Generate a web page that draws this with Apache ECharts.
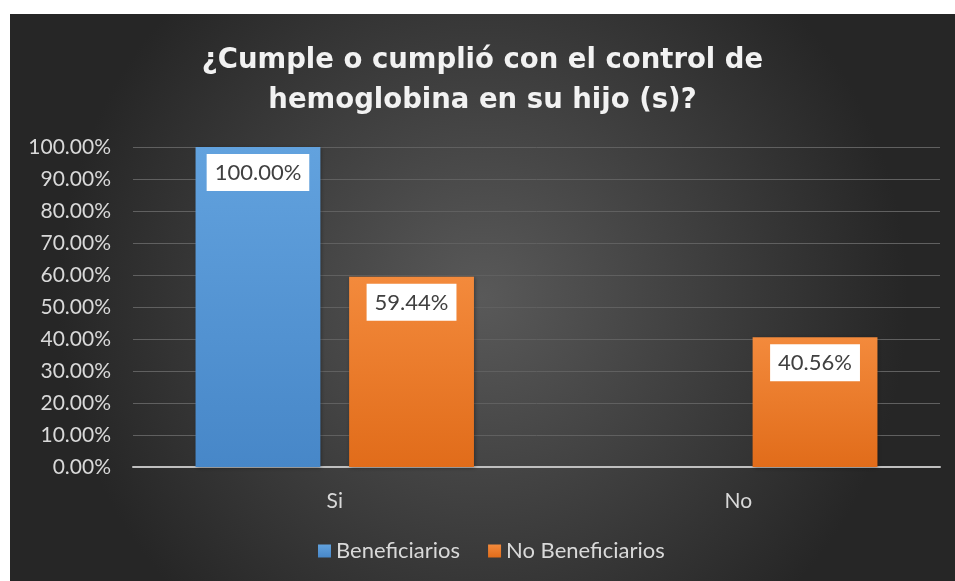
<!DOCTYPE html>
<html><head><meta charset="utf-8">
<script src="https://cdn.jsdelivr.net/npm/echarts@6/dist/echarts.min.js"></script>
<style>
html,body{margin:0;padding:0;background:#fff;width:955px;height:581px;overflow:hidden}
#c{position:absolute;left:10px;top:14px;width:945px;height:567px}
</style></head><body>
<div id="c"></div>
<script>
const categories = ['Si', 'No'];
const seriesNames = ['Beneficiarios', 'No Beneficiarios'];
const beneficiarios = [100.00, null];
const noBeneficiarios = [59.44, 40.56];
const yTicks = [0, 10, 20, 30, 40, 50, 60, 70, 80, 90, 100];

const FONT = 'Lato, "Open Sans", sans-serif';
const chart = echarts.init(document.getElementById('c'));
const labelCfg = {
  show: true, position: 'insideTop', distance: 7,
  backgroundColor: '#ffffff', color: '#404040',
  fontFamily: FONT, fontSize: 22, padding: [8, 8, 7, 8],
  formatter: p => p.value == null ? '' : p.value.toFixed(2) + '%'
};
chart.setOption({
  backgroundColor: {
    type: 'radial', x: 0.5, y: 0.5, r: 0.75,
    colorStops: [{offset: 0, color: '#595959'}, {offset: 1, color: '#262626'}]
  },
  title: {
    text: '¿Cumple o cumplió con el control de\nhemoglobina en su hijo (s)?',
    left: 'center', top: 22,
    textStyle: {color: '#f2f2f2', fontFamily: '"DejaVu Sans", sans-serif', fontWeight: 'bold', fontSize: 27.5, lineHeight: 40}
  },
  legend: {
    data: seriesNames, bottom: 14, left: 303, itemWidth: 13, itemHeight: 13, itemGap: 28,
    icon: 'rect',
    textStyle: {color: '#d9d9d9', fontFamily: FONT, fontSize: 22}
  },
  grid: {left: 123, right: 15, top: 133, bottom: 114},
  xAxis: {
    type: 'category', data: categories,
    axisLine: {lineStyle: {color: '#bfbfbf', width: 2}},
    axisTick: {show: false},
    axisLabel: {color: '#d9d9d9', fontFamily: FONT, fontSize: 21, margin: 24}
  },
  yAxis: {
    type: 'value', min: yTicks[0], max: yTicks[yTicks.length - 1], interval: 10,
    axisLine: {show: false}, axisTick: {show: false},
    splitLine: {lineStyle: {color: '#606060', width: 1}},
    axisLabel: {color: '#d9d9d9', fontFamily: FONT, fontSize: 21, margin: 22,
      formatter: v => v.toFixed(2) + '%'}
  },
  series: [
    {
      name: seriesNames[0], type: 'bar', data: beneficiarios,
      barGap: '23%', barCategoryGap: '31%',
      itemStyle: {color: {type: 'linear', x: 0, y: 0, x2: 0, y2: 1,
        colorStops: [{offset: 0, color: '#62a2de'}, {offset: 1, color: '#4787c8'}]},
        shadowColor: 'rgba(0,0,0,0.35)', shadowBlur: 4, shadowOffsetX: 1, shadowOffsetY: 1},
      label: labelCfg
    },
    {
      name: seriesNames[1], type: 'bar', data: noBeneficiarios,
      itemStyle: {color: {type: 'linear', x: 0, y: 0, x2: 0, y2: 1,
        colorStops: [{offset: 0, color: '#f38a3c'}, {offset: 1, color: '#e16c1a'}]},
        shadowColor: 'rgba(0,0,0,0.35)', shadowBlur: 4, shadowOffsetX: 1, shadowOffsetY: 1},
      label: labelCfg
    }
  ]
});
</script>
</body></html>
